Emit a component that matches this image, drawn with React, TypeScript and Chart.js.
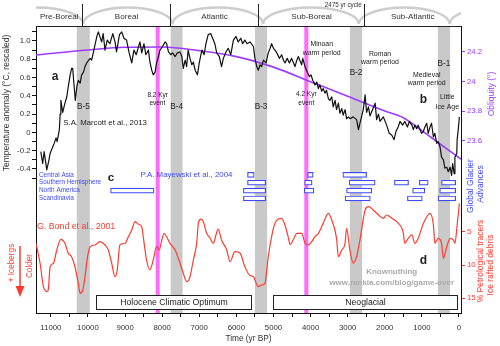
import React, { useEffect, useRef } from 'react';
import { Chart, registerables } from 'chart.js';

Chart.register(...registerables);

const FONT = "'Liberation Sans', Arial, sans-serif";
const BLUE = '#3d4bff';
const RED = '#ff3b2f';
const PURPLE = '#9d3cff';
const PINK = '#ff6bff';
const GREY_BAND = '#c9c9c9';
const INK = '#222';

// ---------- data ----------
// Marcott et al. 2013 temperature anomaly: [year BP, °C]
const marcottSeries: [number, number][] = [
  [11270,-0.21],[11220,-0.34],[11180,-0.21],[11110,-0.41],[11050,-0.30],[11020,-0.23],[10980,-0.19],[10910,-0.12],
  [10860,-0.06],[10830,-0.10],[10770,0.03],[10750,0.20],[10730,0.35],[10680,0.22],[10620,0.32],[10570,0.39],
  [10530,0.50],[10480,0.63],[10440,0.70],[10410,0.70],[10380,0.54],[10340,0.35],[10300,0.50],[10260,0.57],
  [10210,0.54],[10170,0.63],[10120,0.66],[10080,0.72],[10020,0.77],[9940,0.81],[9900,0.79],[9840,0.90],
  [9760,1.05],[9720,1.10],[9680,1.05],[9630,0.99],[9590,1.08],[9540,0.90],[9480,1.01],[9410,0.97],
  [9330,1.08],[9270,0.99],[9230,0.88],[9150,1.07],[9090,1.10],[9030,1.03],[8960,1.01],[8890,0.87],
  [8820,0.76],[8760,0.90],[8700,0.85],[8650,0.92],[8600,0.99],[8550,0.87],[8490,0.97],[8440,0.85],
  [8370,0.90],[8330,0.77],[8280,0.68],[8240,0.63],[8190,0.66],[8150,0.76],[8100,0.83],[8060,0.90],
  [7990,0.94],[7920,0.99],[7880,0.97],[7830,0.88],[7770,0.85],[7720,0.87],[7650,0.83],[7590,0.87],
  [7520,0.88],[7470,0.83],[7430,0.70],[7380,0.79],[7340,0.72],[7300,0.90],[7250,0.81],[7200,0.74],
  [7160,0.77],[7110,0.68],[7050,0.63],[7000,0.76],[6930,0.90],[6870,0.85],[6820,0.97],[6760,1.07],
  [6690,1.08],[6640,1.03],[6580,0.97],[6530,0.87],[6460,0.83],[6400,0.72],[6350,0.81],[6280,0.88],
  [6220,0.92],[6150,0.85],[6080,1.01],[6010,1.05],[5950,0.99],[5880,1.03],[5830,0.97],[5770,1.01],
  [5710,0.97],[5630,0.99],[5540,0.94],[5500,0.81],[5450,0.72],[5410,0.68],[5360,0.74],[5320,0.72],
  [5270,0.79],[5200,0.76],[5140,0.87],[5090,0.92],[5050,0.97],[5000,0.92],[4960,0.90],[4910,0.87],
  [4840,0.81],[4780,0.85],[4730,0.79],[4690,0.76],[4630,0.81],[4570,0.76],[4510,0.81],[4470,0.77],
  [4420,0.72],[4370,0.79],[4330,0.83],[4290,0.79],[4240,0.74],[4210,0.81],[4150,0.72],[4090,0.66],
  [4030,0.61],[3990,0.63],[3940,0.57],[3880,0.52],[3830,0.55],[3790,0.48],[3750,0.52],[3700,0.45],
  [3660,0.48],[3610,0.43],[3570,0.46],[3520,0.37],[3480,0.35],[3430,0.39],[3390,0.28],[3340,0.35],
  [3300,0.25],[3250,0.32],[3210,0.21],[3160,0.26],[3120,0.19],[3070,0.25],[3030,0.15],[2980,0.17],
  [2940,0.15],[2850,0.17],[2760,0.14],[2710,0.03],[2670,0.10],[2580,0.25],[2530,0.41],[2490,0.22],
  [2440,0.28],[2400,0.18],[2340,0.24],[2260,0.32],[2220,0.14],[2170,0.20],[2130,0.12],[2040,0.17],
  [1950,0.08],[1880,-0.01],[1810,-0.03],[1750,-0.08],[1700,0.01],[1640,0.06],[1590,0.12],[1520,0.08],
  [1460,0.12],[1390,0.06],[1340,0.12],[1270,0.08],[1230,0.03],[1190,0.08],[1140,0.04],[1100,0.08],
  [1050,0.03],[1010,-0.01],[960,0.01],[920,0.06],[870,0.10],[830,-0.01],[780,0.06],[740,0.10],
  [690,-0.05],[650,-0.01],[600,-0.12],[560,-0.10],[510,-0.16],[470,-0.27],[420,-0.30],[380,-0.39],
  [330,-0.38],[290,-0.43],[240,-0.38],[200,-0.47],[170,-0.34],[130,-0.45],[110,-0.27],[60,-0.23],
  [50,-0.08],[20,0.03],[-10,0.17],
];

// Obliquity: [year BP, degrees]
const obliquitySeries: [number, number][] = [
  [11400,24.178],[10000,24.212],[9000,24.230],[8000,24.232],[7000,24.207],[6000,24.167],[5000,24.096],
  [4000,23.998],[3000,23.900],[2000,23.800],[1500,23.755],[1000,23.668],[500,23.576],[-54,23.476],
];

// Bond et al. 2001 ice rafted debris: [year BP, %]
const bondSeries: [number, number][] = [
  [11400,6.74],[11290,9.74],[11200,13.26],[11110,14.0],[11070,13.75],[11020,10.26],[10930,9.74],[10840,7.75],
  [10730,6.14],[10620,6.74],[10530,8.24],[10440,8.75],[10350,10.26],[10260,12.75],[10210,14.25],[10140,13.75],
  [10080,11.76],[10010,8.75],[9940,7.25],[9810,7.0],[9680,6.5],[9540,7.0],[9450,7.75],[9360,9.74],
  [9270,11.76],[9210,10.75],[9140,7.0],[9000,6.74],[8910,5.75],[8820,4.74],[8730,3.5],[8650,3.84],
  [8550,4.25],[8510,5.75],[8420,9.25],[8330,10.75],[8240,9.25],[8150,7.25],[8080,7.75],[8010,6.25],
  [7950,5.24],[7880,5.75],[7790,6.74],[7650,7.75],[7520,9.74],[7430,11.25],[7340,12.5],[7250,11.76],
  [7160,9.25],[7070,6.74],[7020,3.54],[6950,3.1],[6890,3.5],[6800,5.24],[6710,5.95],[6620,6.74],
  [6550,5.5],[6490,4.6],[6400,6.25],[6260,7.75],[6170,9.5],[6040,8.0],[5900,8.24],[5770,10.26],
  [5650,11.5],[5540,11.76],[5410,13.26],[5320,13.0],[5230,12.75],[5140,8.75],[5050,5.75],[4960,3.74],
  [4780,2.99],[4690,4.0],[4610,5.64],[4550,6.95],[4470,6.25],[4370,5.24],[4240,5.24],[4150,6.74],
  [4060,7.0],[3970,6.5],[3880,5.75],[3790,5.24],[3660,3.75],[3520,2.24],[3430,3.24],[3300,5.99],
  [3250,8.75],[3160,7.75],[3070,6.74],[3030,4.49],[2940,7.75],[2850,9.74],[2760,8.75],[2670,6.25],
  [2530,1.74],[2440,1.24],[2310,1.74],[2170,2.49],[2040,2.99],[1950,2.49],[1810,2.99],[1680,3.49],
  [1540,4.49],[1500,5.24],[1460,6.74],[1370,5.99],[1270,5.49],[1190,6.74],[1100,5.99],[960,3.75],
  [780,2.24],[690,3.99],[650,6.74],[560,5.99],[470,6.74],[420,8.99],[330,7.25],[240,5.99],
  [150,6.25],[110,6.74],[50,4.0],[-10,0.74],
];

// Mayewski et al. 2004 glacier advances
const glacierRegions = ['Central Asia', 'Southern Hemisphere', 'North America', 'Scandinavia'];
// [region index, start year BP, end year BP]
const glacierAdvances: [number, number, number][] = [
  [0,5700,5520],[0,4080,3930],[0,3130,2490],
  [1,5700,5210],[1,4160,3960],[1,2960,2260],[1,1740,1360],[1,1070,830],[1,470,90],
  [2,9390,8220],[2,5810,5210],[2,4170,3910],[2,3030,2350],[2,1250,920],[2,520,90],
  [3,5810,5210],[3,3070,2390],[3,1390,990],[3,560,90],
];

// Bond events (grey bands)
const bondEventLabels = ['B-5', 'B-4', 'B-3', 'B-2', 'B-1'];
const bondEventStart = [10300, 7770, 5500, 2940, 570];
const bondEventEnd = [9950, 7450, 5170, 2610, 240];

// abrupt events (pink lines)
const abruptEventYears = [8120, 4115];
const abruptEventLabels = ['8.2 Kyr', '4.2 Kyr'];

// Blytt-Sernander periods
const periodNames = ['Pre-Boreal', 'Boreal', 'Atlantic', 'Sub-Boreal', 'Sub-Atlantic'];
const periodBounds = [10160, 7790, 5410, 2550];
const cycleCusps = [10130, 7720, 5280, 2700, 250];
const cycleLength = 2475;

// climate phases
const phaseNames = ['Holocene Climatic Optimum', 'Neoglacial'];
const phaseStart = [9770, 5020];
const phaseEnd = [5600, 60];

// ticks
const xTickValues = [11000,10500,10000,9500,9000,8500,8000,7500,7000,6500,6000,5500,5000,4500,4000,3500,3000,2500,2000,1500,1000,500,0];
const xTickLabels = ['11000','','10000','','9000','','8000','','7000','','6000','','5000','','4000','','3000','','2000','','1000','','0'];
const tempTickValues = [1.1,1.0,0.9,0.8,0.7,0.6,0.5,0.4,0.3,0.2,0.1,0,-0.1,-0.2,-0.3,-0.4,-0.5];
const tempTickLabels = ['','1.0','','0.8','','0.6','','0.4','','0.2','','0','','-0.2','','-0.4',''];
const oblTickValues = [24.2, 24.0, 23.8, 23.6];
const oblTickLabels = ['24.2', '24', '23.8', '23.6'];
const irdTickValues = [5, 10, 15];
const irdTickLabels = ['5', '10', '15'];

// ---------- drawing helpers ----------
function text(ctx: CanvasRenderingContext2D, s: string, x: number, y: number, o: any = {}) {
  ctx.save();
  ctx.translate(x, y);
  if (o.rot) ctx.rotate(o.rot);
  ctx.font = `${o.bold ? 'bold ' : ''}${o.size || 8}px ${FONT}`;
  ctx.fillStyle = o.color || INK;
  ctx.textAlign = o.align || 'center';
  ctx.textBaseline = 'middle';
  ctx.fillText(s, 0, 0);
  ctx.restore();
}

const NOTES: any[] = [
  { s: 'a', yr: 10888, t: 0.61, size: 12, bold: true },
  { s: 'S.A. Marcott et al., 2013', yr: 10665, t: 0.106, size: 7.8, align: 'left' },
  { s: 'event', yr: 8130, t: 0.32, size: 6.5 },
  { s: 'event', yr: 4115, t: 0.325, size: 6.5 },
  { s: 'Minoan', yr: 3700, t: 0.964, size: 6.9 },
  { s: 'warm period', yr: 3700, t: 0.872, size: 6.9 },
  { s: 'Roman', yr: 2129, t: 0.858, size: 6.9 },
  { s: 'warm period', yr: 2129, t: 0.767, size: 6.9 },
  { s: 'Medieval', yr: 870, t: 0.628, size: 6.9 },
  { s: 'warm period', yr: 870, t: 0.537, size: 6.9 },
  { s: 'b', yr: 962, t: 0.362, size: 12, bold: true },
  { s: 'Little', yr: 315, t: 0.384, size: 6.9 },
  { s: 'Ice Age', yr: 315, t: 0.281, size: 6.9 },
  { s: 'c', yr: 9379, t: -0.5, size: 11.5, bold: true },
  { s: 'P.A. Mayewski et al., 2004', yr: 7344, t: -0.466, size: 7.9, color: BLUE },
  { s: 'G. Bond et al., 2001', yr: 11373, t: -1.031, size: 8.8, color: RED, align: 'left' },
  { s: 'd', yr: 962, t: -1.398, size: 12, bold: true },
  { s: 'Knownuthing', yr: 1814, t: -1.52, size: 8, color: '#aaaaaa', bold: true },
  { s: 'www.rankia.com/blog/game-over', yr: 1814, t: -1.65, size: 8, color: '#aaaaaa', bold: true },
];
const BOND_LABEL_T = [0.28, 0.28, 0.28, 0.653, 0.756];
const ABRUPT_LABEL_T = [0.41, 0.42];

const decorPlugin = {
  id: 'decor',
  beforeDatasetsDraw(chart: any) {
    const { ctx, chartArea: ca, scales } = chart;
    const x = scales.x;
    ctx.save();
    ctx.fillStyle = GREY_BAND;
    bondEventStart.forEach((s, i) => {
      const a = x.getPixelForValue(s), b = x.getPixelForValue(bondEventEnd[i]);
      ctx.fillRect(Math.min(a, b), ca.top, Math.abs(b - a), ca.bottom - ca.top);
    });
    ctx.fillStyle = PINK;
    abruptEventYears.forEach((yr) => {
      const p = x.getPixelForValue(yr);
      ctx.fillRect(p - 2, ca.top, 4, ca.bottom - ca.top);
    });
    ctx.restore();
  },
  afterDatasetsDraw(chart: any) {
    const { ctx, scales } = chart;
    const x = scales.x, yT = scales.yT, yG = scales.yG;
    bondEventLabels.forEach((l, i) => {
      const px = (x.getPixelForValue(bondEventStart[i]) + x.getPixelForValue(bondEventEnd[i])) / 2;
      text(ctx, l, px, yT.getPixelForValue(BOND_LABEL_T[i]), { size: 8.2 });
    });
    abruptEventLabels.forEach((l, i) => {
      text(ctx, l, x.getPixelForValue(abruptEventYears[i]), yT.getPixelForValue(ABRUPT_LABEL_T[i]), { size: 6.5 });
    });
    NOTES.forEach((n) => text(ctx, n.s, x.getPixelForValue(n.yr), yT.getPixelForValue(n.t), n));
    glacierRegions.forEach((r, i) => {
      text(ctx, r, x.getPixelForValue(11319), yG.getPixelForValue(i), { size: 6.4, color: BLUE, align: 'left' });
    });
    // phase boxes
    ctx.save();
    phaseNames.forEach((nm, i) => {
      const x1 = Math.round(x.getPixelForValue(phaseStart[i])) + 0.5;
      const x2 = Math.round(x.getPixelForValue(phaseEnd[i])) + 0.5;
      const y1 = Math.round(yT.getPixelForValue(-1.778)) + 0.5;
      const y2 = Math.round(yT.getPixelForValue(-1.931)) + 0.5;
      ctx.fillStyle = '#fff';
      ctx.fillRect(x1, y1, x2 - x1, y2 - y1);
      ctx.strokeStyle = INK;
      ctx.lineWidth = 1;
      ctx.strokeRect(x1, y1, x2 - x1, y2 - y1);
      text(ctx, nm, (x1 + x2) / 2, (y1 + y2) / 2 + 0.5, { size: 8.7 });
    });
    ctx.restore();
  },
  afterDraw(chart: any) {
    const { ctx, chartArea: ca, scales } = chart;
    const x = scales.x;
    ctx.save();
    // cycle arcs
    ctx.beginPath();
    ctx.rect(ca.left, 0, ca.right - ca.left, ca.top);
    ctx.clip();
    const cusps = [cycleCusps[0] + cycleLength, ...cycleCusps, cycleCusps[cycleCusps.length - 1] - cycleLength].map((v) => x.getPixelForValue(v));
    ctx.strokeStyle = '#cdcdcd';
    ctx.lineWidth = 2.5;
    for (let i = 0; i < cusps.length - 1; i++) {
      const cx = (cusps[i] + cusps[i + 1]) / 2;
      const rx = Math.abs(cusps[i + 1] - cusps[i]) / 2;
      ctx.beginPath();
      ctx.ellipse(cx, ca.top - 2, rx, 16.5, 0, Math.PI, 2 * Math.PI);
      ctx.stroke();
    }
    ctx.restore();
    ctx.save();
    // period dividers and names
    ctx.strokeStyle = INK;
    ctx.lineWidth = 1;
    const bpx = periodBounds.map((b) => Math.round(x.getPixelForValue(b)) + 0.5);
    bpx.forEach((p) => {
      ctx.beginPath();
      ctx.moveTo(p, 4);
      ctx.lineTo(p, ca.top);
      ctx.stroke();
    });
    const edges = [ca.left, ...bpx, ca.right];
    periodNames.forEach((nm, i) => text(ctx, nm, (edges[i] + edges[i + 1]) / 2, 16.7, { size: 8.1, color: '#333' }));
    text(ctx, '2475 yr cycle', x.getPixelForValue(3120), 5, { size: 6.3, color: '#333' });
    // top frame
    ctx.beginPath();
    ctx.moveTo(ca.left, Math.round(ca.top) + 0.5);
    ctx.lineTo(ca.right, Math.round(ca.top) + 0.5);
    ctx.stroke();
    // axis titles
    const R = -Math.PI / 2;
    text(ctx, 'Temperature anomaly (°C, rescaled)', 7, 103, { rot: R, size: 8.5, color: '#333' });
    text(ctx, '+ Icebergs', 11.7, 263, { rot: R, size: 8.2, color: RED });
    text(ctx, 'Colder', 29.3, 266, { rot: R, size: 8.2, color: RED });
    text(ctx, 'Obliquity (°)', 491.7, 94, { rot: R, size: 8.5, color: PURPLE });
    text(ctx, 'Global Glacier', 471, 186, { rot: R, size: 8.5, color: BLUE });
    text(ctx, 'Advances', 481, 184, { rot: R, size: 8.5, color: BLUE });
    text(ctx, '% Petrological tracers', 480.5, 261, { rot: R, size: 8.5, color: RED });
    text(ctx, 'Ice rafted debris', 490.5, 265, { rot: R, size: 8.5, color: RED });
    // iceberg arrow
    ctx.strokeStyle = RED;
    ctx.fillStyle = RED;
    ctx.lineWidth = 1.5;
    ctx.beginPath();
    ctx.moveTo(20, 246);
    ctx.lineTo(20, 288);
    ctx.stroke();
    ctx.beginPath();
    ctx.moveTo(15.5, 286);
    ctx.lineTo(24.5, 286);
    ctx.lineTo(20, 297);
    ctx.closePath();
    ctx.fill();
    ctx.restore();
  },
};

const tickFont = { size: 7.8, family: FONT };

export default function App() {
  const ref = useRef<HTMLCanvasElement>(null);
  useEffect(() => {
    Chart.defaults.font.family = FONT;
    const chart = new Chart(ref.current as HTMLCanvasElement, {
      type: 'line',
      data: {
        datasets: [
          {
            label: 'Marcott 2013',
            data: marcottSeries.map(([x, y]) => ({ x, y })),
            xAxisID: 'x', yAxisID: 'yT',
            borderColor: '#111', borderWidth: 1.2, pointRadius: 0, tension: 0, borderJoinStyle: 'round',
          } as any,
          {
            label: 'Obliquity',
            data: obliquitySeries.map(([x, y]) => ({ x, y })),
            xAxisID: 'x', yAxisID: 'yO',
            borderColor: PURPLE, borderWidth: 1.6, pointRadius: 0, cubicInterpolationMode: 'monotone',
          } as any,
          {
            label: 'Bond 2001',
            data: bondSeries.map(([x, y]) => ({ x, y })),
            xAxisID: 'x', yAxisID: 'yP',
            borderColor: RED, borderWidth: 1.2, pointRadius: 0, cubicInterpolationMode: 'monotone',
          } as any,
          {
            type: 'bar',
            label: 'Glacier advances',
            indexAxis: 'y',
            data: glacierAdvances.map(([r, s, e]) => ({ y: r, x: [s, e] })),
            xAxisID: 'x', yAxisID: 'yG',
            backgroundColor: '#ffffff', borderColor: BLUE, borderWidth: 1.2, borderSkipped: false,
            barThickness: 5, grouped: false,
          } as any,
        ],
      },
      options: {
        responsive: false,
        animation: false,
        layout: { padding: { top: 26, left: 0, right: 0, bottom: 0 } },
        plugins: { legend: { display: false }, tooltip: { enabled: false } },
        elements: { point: { radius: 0 } },
        scales: {
          x: {
            type: 'linear', position: 'bottom', reverse: true, min: -54, max: 11400,
            afterBuildTicks: (s: any) => { s.ticks = xTickValues.map((v) => ({ value: v })); },
            afterFit: (s: any) => { s.height = 33; },
            ticks: { callback: (_v: any, i: number) => xTickLabels[i], font: tickFont, color: '#333', padding: 6, maxRotation: 0, autoSkip: false },
            grid: { drawOnChartArea: false, tickLength: 4, color: '#111' },
            border: { color: '#111', width: 1 },
            title: { display: true, text: 'Time (yr BP)', font: { size: 8.3, family: FONT }, color: '#333', padding: { top: 0, bottom: 2 } },
          },
          yT: {
            type: 'linear', position: 'left', min: -1.975, max: 1.164,
            afterBuildTicks: (s: any) => { s.ticks = tempTickValues.map((v) => ({ value: v })); },
            afterFit: (s: any) => { s.width = 36; },
            ticks: { callback: (_v: any, i: number) => tempTickLabels[i], font: tickFont, color: '#333', padding: 1.5, autoSkip: false },
            grid: { drawOnChartArea: false, tickLength: 4, color: '#111' },
            border: { color: '#111', width: 1 },
          },
          yG: {
            type: 'linear', position: 'left', display: false, reverse: true, min: -16.27, max: 14.92,
          },
          yO: {
            type: 'linear', position: 'right', stack: 'right', stackWeight: 160, min: 23.2945, max: 24.3733,
            afterBuildTicks: (s: any) => { s.ticks = oblTickValues.map((v) => ({ value: v })); },
            afterFit: (s: any) => { s.width = 39; },
            ticks: { callback: (_v: any, i: number) => oblTickLabels[i], font: tickFont, color: PURPLE, padding: 2, autoSkip: false },
            grid: { drawOnChartArea: false, tickLength: 4, color: PURPLE },
            border: { color: '#111', width: 1 },
          },
          yP: {
            type: 'linear', position: 'right', stack: 'right', stackWeight: 127, reverse: true, min: -1.862, max: 17.207,
            afterBuildTicks: (s: any) => { s.ticks = irdTickValues.map((v) => ({ value: v })); },
            afterFit: (s: any) => { s.width = 39; },
            ticks: { callback: (_v: any, i: number) => irdTickLabels[i], font: tickFont, color: RED, padding: 2, autoSkip: false },
            grid: { drawOnChartArea: false, tickLength: 4, color: RED },
            border: { color: '#111', width: 1 },
          },
        },
      } as any,
      plugins: [decorPlugin],
    });
    return () => chart.destroy();
  }, []);
  return (
    <div style={{ position: 'fixed', left: 0, top: 0, width: 500, height: 346, background: '#fff' }}>
      <canvas ref={ref} width={500} height={346} style={{ width: 500, height: 346, display: 'block' }} />
    </div>
  );
}
